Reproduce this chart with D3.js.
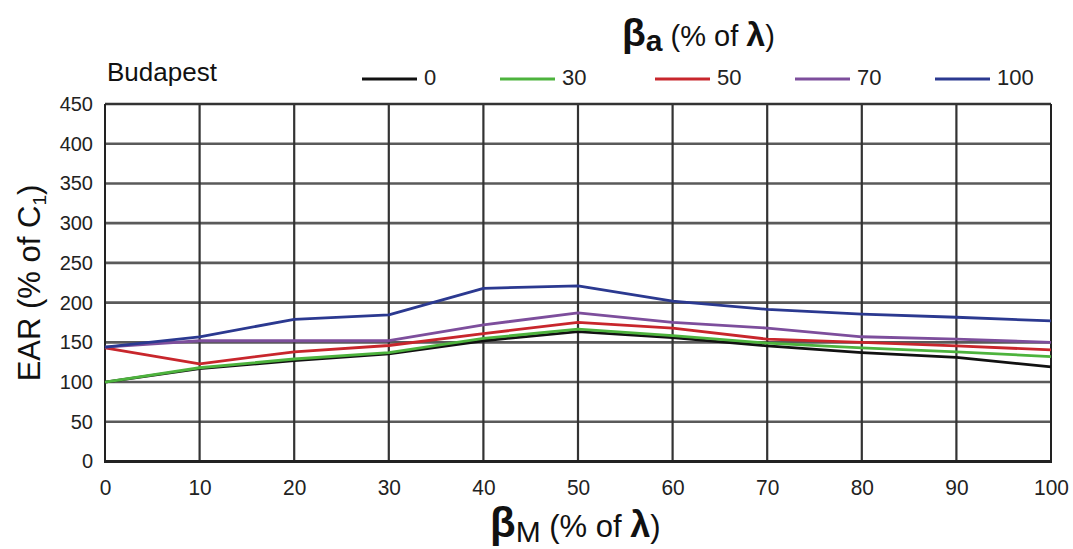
<!DOCTYPE html>
<html><head><meta charset="utf-8">
<script src="https://cdn.jsdelivr.net/npm/d3@7"></script>
<style>body{margin:0;background:#fff}svg{display:block}text{font-family:"Liberation Sans",Arial,sans-serif}</style>
</head><body><svg id="c" width="1073" height="549"></svg>
<script>
const xValues = [0,10,20,30,40,50,60,70,80,90,100];
const yTicks = [0,50,100,150,200,250,300,350,400,450];
const seriesNames = ["0","30","50","70","100"];
const seriesColors = ["#111111","#4db33d","#c8262c","#7d4e9c","#2b3990"];
const s0   = [100,117,127,135.5,152,163.5,156,145.5,137,131,119];
const s30  = [100,118,129,137,155,166.5,158.5,149,143,138,132];
const s50  = [143,123,138,146,161,175,168,154,150,145.5,140.5];
const s70  = [144,152,152,152,172,187,175,168,157,154,150];
const s100 = [144,157,179,184.5,218,221,202,191.5,185.5,181.6,177];
const seriesValues = [s0,s30,s50,s70,s100];

const svg = d3.select("#c");
const x = d3.scaleLinear().domain([0,100]).range([105,1051]);
const y = d3.scaleLinear().domain([0,450]).range([461.5,104]);

// horizontal grid
svg.append("g").selectAll("line").data(yTicks.filter(d=>d>0)).join("line")
  .attr("x1",x(0)).attr("x2",x(100)).attr("y1",d=>y(d)).attr("y2",d=>y(d))
  .attr("stroke",d=>d===450?"#333":"#5a5a5a").attr("stroke-width",2.6);
// vertical grid
svg.append("g").selectAll("line").data(xValues).join("line")
  .attr("x1",d=>x(d)).attr("x2",d=>x(d)).attr("y1",y(450)).attr("y2",y(0))
  .attr("stroke",d=>(d===0||d===100)?"#222":"#333").attr("stroke-width",d=>(d===0||d===100)?2:2.2);
// bottom axis line
svg.append("line").attr("x1",x(0)-1).attr("x2",x(100)+1).attr("y1",y(0)).attr("y2",y(0))
  .attr("stroke","#222").attr("stroke-width",3.2);

// axes labels via d3 axes
const yAxis = d3.axisLeft(y).tickValues(yTicks).tickSize(0).tickPadding(12);
const ga = svg.append("g").attr("transform",`translate(${x(0)},0)`).call(yAxis);
ga.select(".domain").remove();
ga.selectAll("text").attr("font-size",20).attr("fill","#222").attr("font-family","'Liberation Sans',Arial,sans-serif");
const xAxis = d3.axisBottom(x).tickValues(xValues).tickSize(0).tickPadding(18);
const gx = svg.append("g").attr("transform",`translate(0,${y(0)})`).call(xAxis);
gx.select(".domain").remove();
gx.selectAll("text").attr("font-size",22).attr("fill","#222")
  .attr("font-family","'Liberation Sans',Arial,sans-serif")
  .attr("transform","scale(0.95,1)");

// lines
const line = d3.line().x((d,i)=>x(xValues[i])).y(d=>y(d));
seriesValues.forEach((vals,k)=>{
  svg.append("path").datum(vals).attr("d",line).attr("fill","none")
    .attr("stroke",seriesColors[k]).attr("stroke-width",2.8).attr("stroke-linejoin","round");
});

// legend
const legX = [362,500,655,795,935];
seriesNames.forEach((n,k)=>{
  svg.append("line").attr("x1",legX[k]).attr("x2",legX[k]+55).attr("y1",79).attr("y2",79)
    .attr("stroke",seriesColors[k]).attr("stroke-width",3);
  svg.append("text").attr("x",legX[k]+62).attr("y",85).attr("font-size",22).attr("fill","#222").text(n);
});
svg.append("text").attr("x",107).attr("y",81).attr("font-size",26).attr("fill","#111").text("Budapest");

// legend title
const lt = svg.append("text").attr("x",622).attr("y",46).attr("fill","#111");
lt.append("tspan").attr("font-size",39).attr("font-weight","bold").text("β");
lt.append("tspan").attr("font-size",30).attr("font-weight","bold").attr("dy",5).text("a");
lt.append("tspan").attr("font-size",29).attr("dy",-5).text(" (% of ");
lt.append("tspan").attr("font-size",34).attr("font-weight","bold").text("λ");
lt.append("tspan").attr("font-size",29).text(")");

// x title
const xt = svg.append("text").attr("x",490).attr("y",537).attr("fill","#111");
xt.append("tspan").attr("font-size",42).attr("font-weight","bold").text("β");
xt.append("tspan").attr("font-size",30).attr("dy",5).text("M");
xt.append("tspan").attr("font-size",31).attr("dy",-5).text(" (% of ");
xt.append("tspan").attr("font-size",36).attr("font-weight","bold").text("λ");
xt.append("tspan").attr("font-size",31).text(")");

// y title
const yt = svg.append("text").attr("transform","translate(40,283) rotate(-90)").attr("text-anchor","middle")
  .attr("fill","#111").attr("font-size",31);
yt.append("tspan").text("EAR (% of C");
yt.append("tspan").attr("font-size",19).attr("dy",6).text("1");
yt.append("tspan").attr("dy",-6).text(")");
</script></body></html>
